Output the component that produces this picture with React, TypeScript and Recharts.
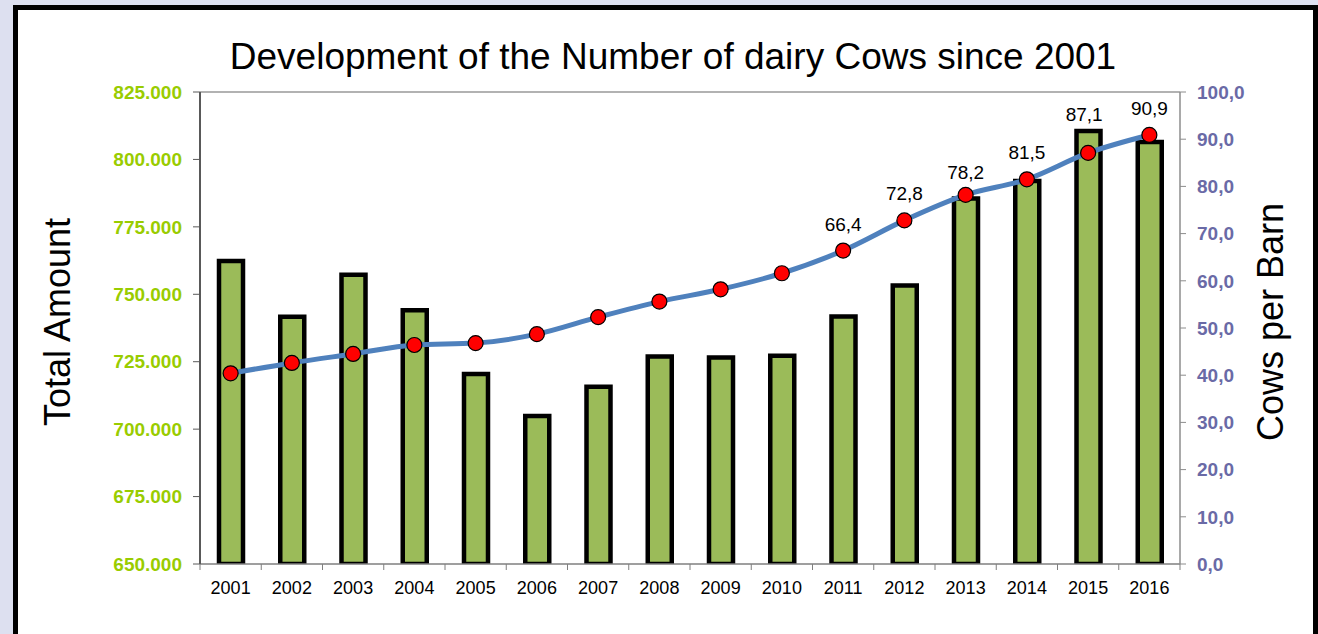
import React from 'react';
import { ComposedChart, Bar, Line, XAxis, YAxis, LabelList, ReferenceLine } from 'recharts';

const years = ['2001', '2002', '2003', '2004', '2005', '2006', '2007', '2008', '2009', '2010', '2011', '2012', '2013', '2014', '2015', '2016'];
const totalCows = [762300, 741700, 757200, 744100, 720400, 704900, 715700, 726900, 726600, 727200, 741800, 753300, 785500, 792000, 810500, 806500];
const cowsPerBarn = [40.4, 42.6, 44.5, 46.4, 46.8, 48.7, 52.3, 55.6, 58.2, 61.6, 66.4, 72.8, 78.2, 81.5, 87.1, 90.9];
const barnLabels = ['', '', '', '', '', '', '', '', '', '', '66,4', '72,8', '78,2', '81,5', '87,1', '90,9'];
const leftTicks = [650000, 675000, 700000, 725000, 750000, 775000, 800000, 825000];
const rightTicks = [0, 10, 20, 30, 40, 50, 60, 70, 80, 90, 100];

const data = years.map((y, i) => ({ year: y, total: totalCows[i], barn: cowsPerBarn[i], label: barnLabels[i] }));

const FONT = '"Liberation Sans", Arial, sans-serif';

// extra lift (px) for labels that would collide with a bar top
const labelLift: Record<number, number> = { 12: -4, 14: 12 };

const fmtThousands = (v: number) => {
  const s = String(Math.round(v));
  return s.replace(/\B(?=(\d{3})+(?!\d))/g, '.');
};
const fmtDecimal = (v: number) => v.toFixed(1).replace('.', ',');

const XTick = (props: any) => {
  const { x, y, payload, index, visibleTicksCount } = props;
  const off = payload && payload.offset ? payload.offset : 30.6;
  const axisY = y - 17;
  return (
    <g>
      <line x1={x - off} x2={x - off} y1={axisY} y2={axisY + 6} stroke="#7f7f7f" strokeWidth={1} />
      {index === visibleTicksCount - 1 ? (
        <line x1={x + off} x2={x + off} y1={axisY} y2={axisY + 6} stroke="#7f7f7f" strokeWidth={1} />
      ) : null}
      <text x={x} y={y} dy="0.71em" textAnchor="middle" fontSize={18} fill="#000" fontFamily={FONT}>
        {payload.value}
      </text>
    </g>
  );
};

const PointLabel = (props: any) => {
  const { x, y, value, index } = props;
  if (!value) return null;
  const lift = labelLift[index] || 0;
  const dx = index === 14 ? -4 : 0;
  return (
    <text x={x + dx} y={y - 20 - lift} textAnchor="middle" fontSize={19} fill="#000" fontFamily={FONT}>
      {value}
    </text>
  );
};

export default function App() {
  return (
    <div style={{ position: 'fixed', left: 0, top: 0, width: 1318, height: 634, background: '#dde0f0', overflow: 'hidden', fontFamily: FONT }}>
      <div style={{ position: 'absolute', left: 13, top: 5, width: 1305, height: 640, boxSizing: 'border-box', border: '5px solid #000', background: '#fff' }} />
      <div style={{ position: 'absolute', left: 0, top: 38, width: 1346, textAlign: 'center', fontSize: 37, lineHeight: '37px', color: '#000', whiteSpace: 'nowrap' }}>
        Development of the Number of dairy Cows since 2001
      </div>
      <div style={{ position: 'absolute', left: 0, top: 0 }}>
        <ComposedChart width={1318} height={634} data={data} margin={{ top: 92, right: 38, left: 100, bottom: 30 }}>
          <XAxis
            dataKey="year"
            height={40}
            tickLine={false}
            tickSize={6}
            tickMargin={11}
            axisLine={{ stroke: '#7f7f7f', strokeWidth: 1.5 }}
            tick={<XTick />}
            interval={0}
          />
          <YAxis
            yAxisId="left"
            orientation="left"
            width={100}
            domain={[650000, 825000]}
            ticks={leftTicks}
            allowDataOverflow
            tickFormatter={fmtThousands}
            tick={{ fill: '#99cc00', fontSize: 19, fontWeight: 'bold', fontFamily: FONT }}
            axisLine={{ stroke: '#595959', strokeWidth: 2 }}
            tickLine={{ stroke: '#595959' }}
            tickSize={7}
            tickMargin={11}
            label={{
              content: () => (
                <text x={57} y={322} transform="rotate(-90 57 322)" textAnchor="middle" dominantBaseline="central" fontSize={36} fill="#000" fontFamily={FONT}>
                  Total Amount
                </text>
              ),
            }}
          />
          <YAxis
            yAxisId="right"
            orientation="right"
            width={100}
            domain={[0, 100]}
            ticks={rightTicks}
            tickFormatter={fmtDecimal}
            tick={{ fill: '#6a6aa6', fontSize: 19, fontWeight: 'bold', fontFamily: FONT }}
            axisLine={{ stroke: '#8c8c8c', strokeWidth: 1.5 }}
            tickLine={{ stroke: '#8c8c8c' }}
            tickSize={6}
            tickMargin={11}
            label={{
              content: () => (
                <text x={1270} y={322} transform="rotate(-90 1270 322)" textAnchor="middle" dominantBaseline="central" fontSize={36} fill="#000" fontFamily={FONT}>
                  Cows per Barn
                </text>
              ),
            }}
          />
          <ReferenceLine yAxisId="left" y={825000} stroke="#999" strokeWidth={1.5} />
          <Bar yAxisId="left" dataKey="total" barSize={24} fill="#9bbb59" stroke="#000" strokeWidth={4.5} isAnimationActive={false} />
          <Line
            yAxisId="right"
            dataKey="barn"
            type="monotone"
            stroke="#4f81bd"
            strokeWidth={5}
            dot={{ r: 7.5, fill: '#ff0000', stroke: '#000', strokeWidth: 1.2 }}
            activeDot={false}
            isAnimationActive={false}
          >
            <LabelList dataKey="label" content={<PointLabel />} />
          </Line>
        </ComposedChart>
      </div>
    </div>
  );
}
